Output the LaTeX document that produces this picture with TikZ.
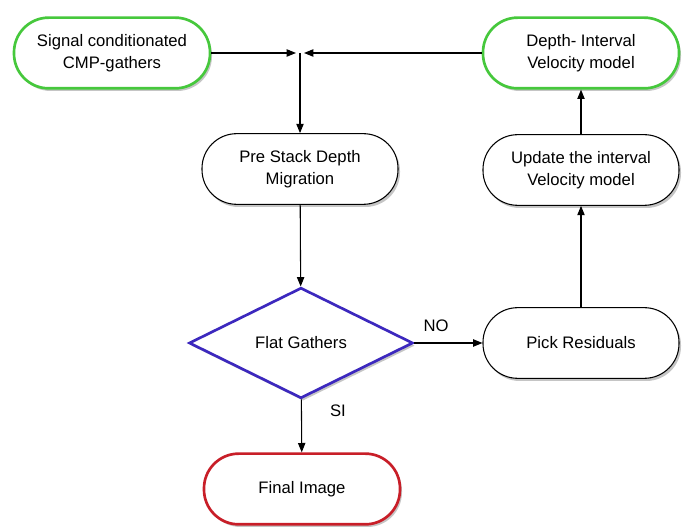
\documentclass[tikz,border=0pt]{standalone}
\usepackage{fontspec}
\setmainfont{Liberation Sans}
\usetikzlibrary{arrows.meta,shapes.geometric,shadows}

\tikzset{
  flowbox/.style={draw=black, line width=0.8pt, fill=white, rounded corners=26pt,
    minimum width=147pt, minimum height=53pt, align=center, inner sep=2pt,
    font=\fontsize{12.5}{16.5}\selectfont,
    drop shadow={shadow xshift=1.5pt, shadow yshift=-2pt, fill=black!45, opacity=0.5}},
  greenbox/.style={flowbox, draw={rgb,255:red,70;green,200;blue,60}, line width=2pt},
  redbox/.style={flowbox, draw={rgb,255:red,200;green,30;blue,40}, line width=2pt},
  testbox/.style={diamond, draw={rgb,255:red,60;green,40;blue,190}, line width=2pt, fill=white,
    minimum width=168pt, minimum height=83pt, inner sep=0pt, aspect=2,
    font=\fontsize{12.5}{16.5}\selectfont,
    drop shadow={shadow xshift=1.5pt, shadow yshift=-2pt, fill=black!45, opacity=0.5}},
  flow/.style={-{Triangle[length=7pt,width=5.5pt]}, line width=0.8pt},
  lbl/.style={font=\fontsize{12.5}{15}\selectfont, inner sep=0.75pt}
}

\begin{document}
\begin{tikzpicture}[x=0.75pt,y=0.75pt,yscale=-1,xscale=1]
\useasboundingbox (0,0) rectangle (683,530);

% Nodes
\node [greenbox] (signal) at (112,53) {Signal conditionated\\CMP-gathers};
\node [greenbox] (model) at (581,53) {Depth- Interval\\Velocity model};
\node [flowbox] (psdm) at (300,169) {Pre Stack Depth\\Migration};
\node [flowbox] (update) at (581,170) {Update the interval\\Velocity model};
\node [testbox] (flat) at (301,343) {Flat Gathers};
\node [flowbox] (pick) at (581,343) {Pick Residuals};
\node [redbox] (final) at (302,489) {Final Image};
\coordinate (join) at (300,53);

% Connectors
\draw [flow, shorten >=3pt] (signal) -- (join);
\draw [flow, shorten >=3pt] (model) -- (join);
\draw [flow] (join) -- (psdm);
\draw [flow] (psdm) -- (flat);
\draw [flow] (flat) -- (pick);
\draw [flow] (flat) -- (final);
\draw [flow] (pick) -- (update);
\draw [flow] (update) -- (model);

% Text Node
\node [lbl] (no) at (436,326) {NO};
% Text Node
\node [lbl] (si) at (338,411) {SI};

\end{tikzpicture}
\end{document}
